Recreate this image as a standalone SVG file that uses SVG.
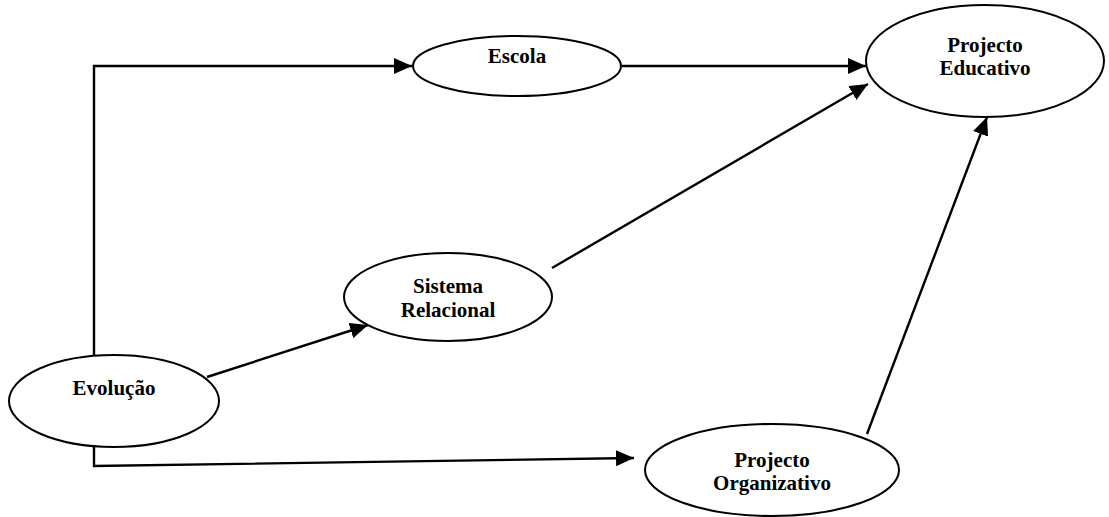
<svg xmlns="http://www.w3.org/2000/svg" width="1109" height="517" viewBox="0 0 1109 517">
<style>
.n{fill:#fff;stroke:#000;stroke-width:2}
.t{font-family:"Liberation Serif","Times New Roman",serif;font-weight:bold;font-size:21px;text-anchor:middle;fill:#000}
.c{fill:none;stroke:#000;stroke-width:2.4}
</style>
<defs>
<marker id="a" markerUnits="userSpaceOnUse" markerWidth="19" markerHeight="16" refX="18" refY="8" orient="auto">
<path d="M0,0 L18,8 L0,16 Z" fill="#000"/>
</marker>
</defs>
<g id="connectors">
<path class="c" d="M94,368 L94,66 L412,66" marker-end="url(#a)"/>
<path class="c" d="M622,66 L866,66" marker-end="url(#a)"/>
<path class="c" d="M552,268 L868,84" marker-end="url(#a)"/>
<path class="c" d="M207,377 L368,325" marker-end="url(#a)"/>
<path class="c" d="M94,447 L94,466 L634,458" marker-end="url(#a)"/>
<path class="c" d="M867,434 L987,117" marker-end="url(#a)"/>
</g>
<g id="escola">
<ellipse class="n" cx="517" cy="66" rx="104" ry="30"/>
<text class="t" x="517" y="63">Escola</text>
</g>
<g id="projecto-educativo">
<ellipse class="n" cx="985" cy="61" rx="119" ry="56"/>
<text class="t" x="985" y="52">Projecto</text>
<text class="t" x="985" y="75">Educativo</text>
</g>
<g id="sistema-relacional">
<ellipse class="n" cx="448" cy="297" rx="104" ry="44"/>
<text class="t" x="448" y="293">Sistema</text>
<text class="t" x="448" y="317">Relacional</text>
</g>
<g id="evolucao">
<ellipse class="n" cx="114" cy="401" rx="105" ry="46"/>
<text class="t" x="114" y="395">Evolução</text>
</g>
<g id="projecto-organizativo">
<ellipse class="n" cx="772" cy="470" rx="127" ry="46"/>
<text class="t" x="772" y="467">Projecto</text>
<text class="t" x="772" y="490">Organizativo</text>
</g>
</svg>
